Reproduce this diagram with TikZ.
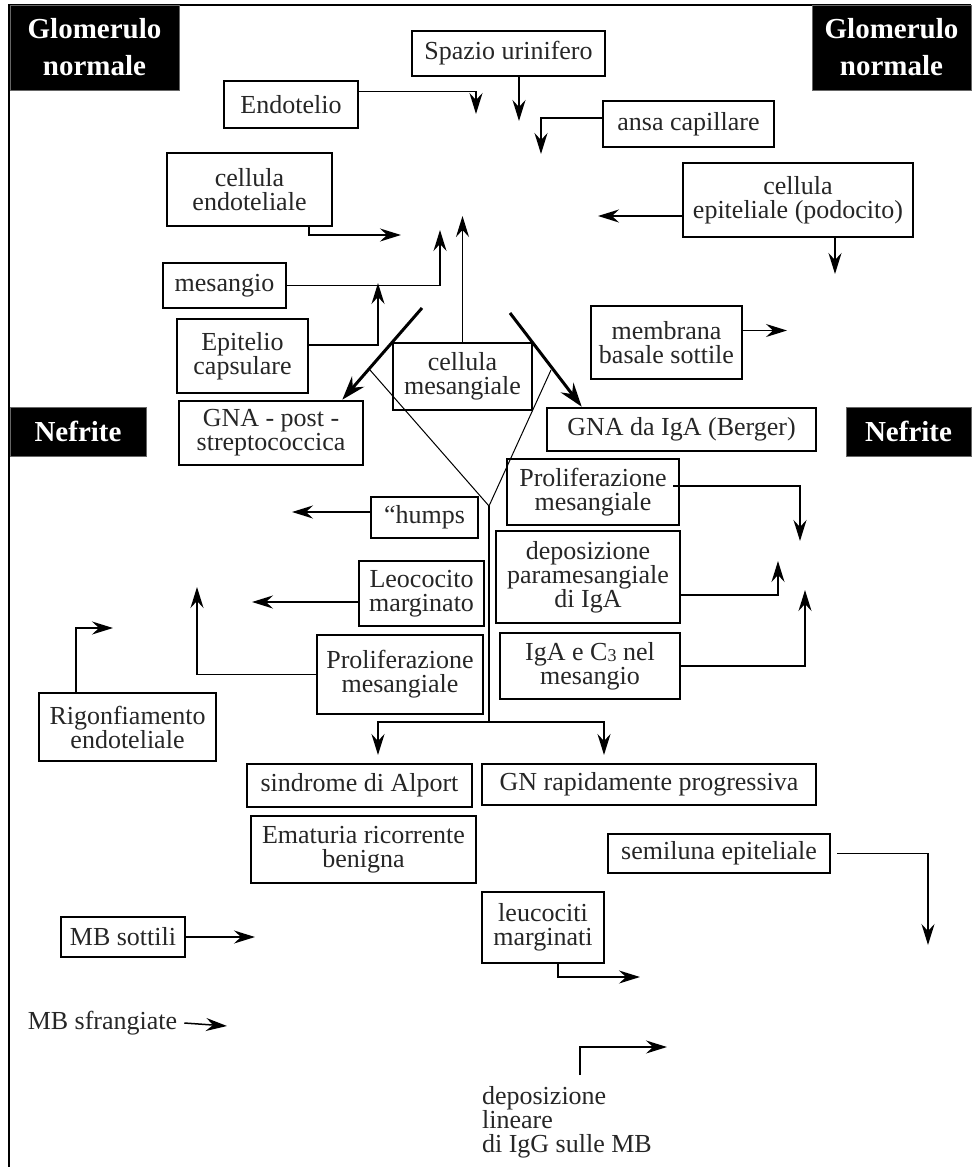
\documentclass[tikz,border=0pt]{standalone}
\usepackage{fontspec}
\setmainfont{Liberation Serif}
\usetikzlibrary{arrows.meta,positioning}

\begin{document}
\begin{tikzpicture}[x=0.5pt, y=-0.5pt,
    every node/.style={font=\fontsize{13pt}{12pt}\selectfont, text=black!85},
    box/.style={rectangle, draw=black, line width=1.3pt, fill=white, align=center, inner sep=1pt},
    title/.style={rectangle, fill=black, draw=black!60, line width=0.4pt, text=white, align=center, font=\fontsize{14.5pt}{18.5pt}\selectfont\bfseries},
    arr/.style={-{Stealth[length=10.5pt, width=6.5pt, inset=3.5pt]}, line width=0.75pt},
    bigarr/.style={-{Stealth[length=12pt, width=8pt, inset=4pt]}, line width=1.5pt}]
    \useasboundingbox (0,0) rectangle (971,1167);

    % Frame
    \draw[line width=1pt] (9,1167) -- (9,5) -- (971,5);

    % Title blocks
    \node[title, minimum width=84.5pt, minimum height=42.5pt] (glomL) at (94.5,47.5) {Glomerulo\\normale};
    \node[title, minimum width=79.5pt, minimum height=42.5pt] (glomR) at (891.5,47.5) {Glomerulo\\normale};
    \node[title, minimum width=68pt, minimum height=24.5pt] (nefL) at (78,431.5) {Nefrite};
    \node[title, minimum width=62.5pt, minimum height=24.5pt] (nefR) at (908.5,431.5) {Nefrite};

    % Glomerulo normale components
    \node[box, minimum width=96.5pt, minimum height=22.5pt] (spazio) at (508.5,53.5) {Spazio urinifero};
    \node[box, minimum width=67pt, minimum height=23.5pt] (endot) at (291,104.5) {Endotelio};
    \node[box, minimum width=85.5pt, minimum height=23pt] (ansa) at (688.5,124) {ansa capillare};
    \node[box, minimum width=82.5pt, minimum height=36.5pt] (cendo) at (249.5,189.5) {cellula\\endoteliale};
    \node[box, minimum width=115pt, minimum height=37pt] (podo) at (798,200) {cellula\\epiteliale (podocito)};
    \node[box, minimum width=61.5pt, minimum height=22.5pt] (mesang) at (224.5,285.5) {mesangio};
    \node[box, minimum width=65.5pt, minimum height=37pt] (epicaps) at (242.5,356) {Epitelio\\capsulare};
    \node[box, minimum width=69.5pt, minimum height=33.5pt] (cmes) at (462.5,376.5) {cellula\\mesangiale};
    \node[box, minimum width=75.5pt, minimum height=36.5pt] (mbsott) at (666.5,342.5) {membrana\\basale sottile};

    % Nefrite components
    \node[box, minimum width=92pt, minimum height=32pt] (gnapost) at (271,433) {GNA - post -\\streptococcica};
    \node[box, minimum width=134.5pt, minimum height=21.5pt] (berger) at (681.5,429.5) {GNA da IgA (Berger)};
    \node[box, minimum width=53.5pt, minimum height=20.5pt] (humps) at (424.5,517.5) {``humps};
    \node[box, minimum width=86pt, minimum height=33pt] (prolR) at (593,492) {Proliferazione\\mesangiale};
    \node[box, minimum width=92pt, minimum height=46pt] (deposR) at (588,577) {deposizione\\paramesangiale\\di IgA};
    \node[box, minimum width=90pt, minimum height=33pt] (igac) at (590,666) {IgA e C\raisebox{-0.8pt}{\fontsize{9pt}{9pt}\selectfont 3} nel\\mesangio};
    \node[box, minimum width=62.5pt, minimum height=32.5pt] (leoco) at (421.5,593.5) {Leococito\\marginato};
    \node[box, minimum width=83pt, minimum height=39.5pt] (prolL) at (400,674.5) {Proliferazione\\mesangiale};
    \node[box, minimum width=88.5pt, minimum height=34pt] (rigonf) at (127.5,727) {Rigonfiamento\\endoteliale};
    \node[box, minimum width=112.5pt, minimum height=21.5pt] (alport) at (359.5,785.5) {sindrome di Alport};
    \node[box, minimum width=167pt, minimum height=20.5pt] (gnrp) at (649,784.5) {GN rapidamente progressiva};
    \node[box, minimum width=112.5pt, minimum height=33.5pt] (ematuria) at (363.5,849.5) {Ematuria ricorrente\\benigna};
    \node[box, minimum width=111pt, minimum height=19.5pt] (semil) at (719,853.5) {semiluna epiteliale};
    \node[box, minimum width=62pt, minimum height=20pt] (mbsottili) at (123,937) {MB sottili};
    \node[box, minimum width=61pt, minimum height=35.5pt] (leucmarg) at (543,927.5) {leucociti\\marginati};
    \node (mbsfr) at (102.5,1023) {MB sfrangiate};
    \node[anchor=west, align=left] (deplin) at (475,1122) {deposizione\\lineare\\di IgG sulle MB};

    % Arrow ends
    \coordinate (tEndo) at (476,114);
    \coordinate (tSpaz) at (519,121);
    \coordinate (tAnsa) at (541,154);
    \coordinate (tPodoL) at (598,216);
    \coordinate (tPodoD) at (835,274);
    \coordinate (tCendo) at (401,235);
    \coordinate (tMes) at (440,230);
    \coordinate (tCmes) at (462.5,216);
    \coordinate (tEpi) at (378,283);
    \coordinate (tMbsott) at (787,330.5);
    \coordinate (dL) at (422,308);
    \coordinate (dR) at (510,313);
    \coordinate (yL) at (370,370);
    \coordinate (yR) at (551,370);
    \coordinate (V) at (489,506);
    \coordinate (vB) at (489,722);
    \coordinate (tAlp) at (378,755);
    \coordinate (tGnrp) at (604,755);
    \coordinate (tHumps) at (292,512);
    \coordinate (tLeo) at (252,602);
    \coordinate (tProlL) at (197,587);
    \coordinate (tRig) at (113,628);
    \coordinate (tProlR) at (800,541);
    \coordinate (tDep) at (778,561);
    \coordinate (tIga) at (805,590);
    \coordinate (tSemi) at (928,945);
    \coordinate (tLeuc) at (640,977);
    \coordinate (tDepl) at (667,1047);
    \coordinate (tMbs) at (255,937);
    \coordinate (tMbsf) at (227,1026);

    % Arrows - Glomerulo normale
    \draw[arr] ([yshift=6.5pt]endot.east) -| (tEndo);
    \draw[arr] (spazio.south -| tSpaz) -- (tSpaz);
    \draw[arr] ([yshift=3pt]ansa.west) -| (tAnsa);
    \draw[arr] ([yshift=-8pt]podo.west) -- (tPodoL);
    \draw[arr] (podo.south -| tPodoD) -- (tPodoD);
    \draw[arr] ([xshift=29.75pt]cendo.south) |- (tCendo);
    \draw[arr] (mesang.east) -| (tMes);
    \draw[arr] (cmes.north) -- (tCmes);
    \draw[arr] ([yshift=5.5pt]epicaps.east) -| (tEpi);
    \draw[arr] (mbsott.east |- tMbsott) -- (tMbsott);

    % Arrows - Nefrite
    \draw[bigarr] (dL) -- ([xshift=-11pt]gnapost.north east);
    \draw[bigarr] (dR) -- ([xshift=18pt]berger.north west);
    \draw[line width=0.5pt] (yL) -- (V) -- (yR);
    \draw[line width=1pt] (V) -- (vB);
    \draw[arr, line width=1pt] (vB) -| (tAlp);
    \draw[arr, line width=1pt] (vB) -| (tGnrp);
    \draw[arr] ([yshift=2.75pt]humps.west) -- (tHumps);
    \draw[arr] ([yshift=-4.25pt]leoco.west) -- (tLeo);
    \draw[arr] (prolL.west) -| (tProlL);
    \draw[arr] ([xshift=-25.75pt]rigonf.north) |- (tRig);
    \draw[arr] ([xshift=-3.5pt,yshift=3pt]prolR.east) -| (tProlR);
    \draw[arr] ([yshift=-9pt]deposR.east) -| (tDep);
    \draw[arr] (igac.east) -| (tIga);
    \draw[arr] ([xshift=3pt]semil.east) -| (tSemi);
    \draw[arr] ([xshift=7.5pt]leucmarg.south) |- (tLeuc);
    \draw[arr] ([xshift=52.5pt,yshift=2pt]deplin.north west) |- (tDepl);
    \draw[arr] (mbsottili.east) -- (tMbs);
    \draw[arr] (mbsfr.east) -- (tMbsf);
\end{tikzpicture}
\end{document}
